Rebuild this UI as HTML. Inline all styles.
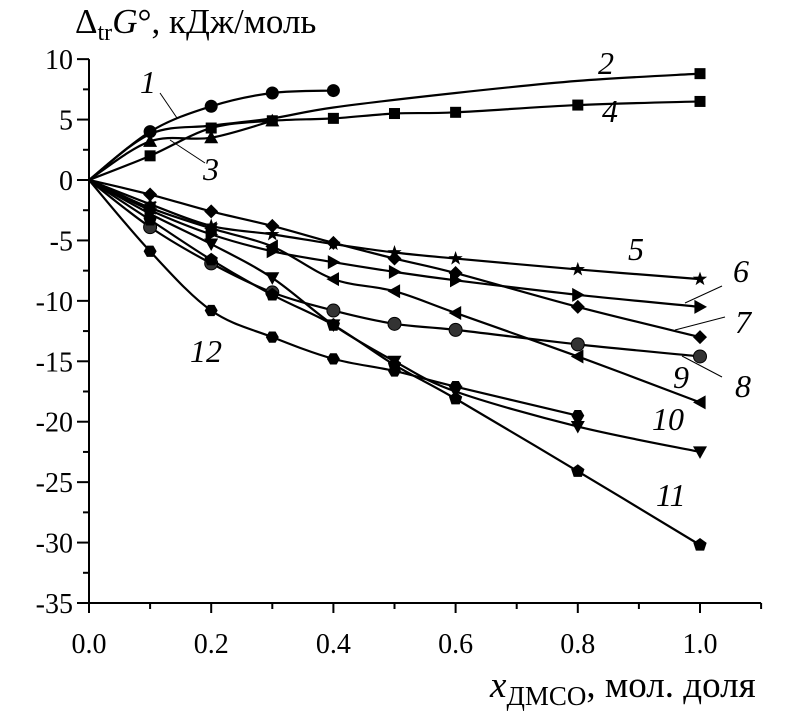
<!DOCTYPE html>
<html><head><meta charset="utf-8"><style>
html,body{margin:0;padding:0;background:#fff;}
svg{display:block;font-family:"Liberation Serif",serif;}
</style></head><body>
<svg id="chart" width="812" height="722" viewBox="0 0 812 722" xmlns="http://www.w3.org/2000/svg">
<g id="axes"></g>
<g id="series"></g>
<g id="labels"></g>
<text x="75" y="33" font-size="35">Δ<tspan font-size="24" dy="7">tr</tspan><tspan dy="-7" font-style="italic">G</tspan>°, кДж/моль</text>
<text x="490" y="697" font-size="37"><tspan font-style="italic">x</tspan><tspan font-size="27" dy="8">ДМСО</tspan><tspan dy="-8">, мол. доля</tspan></text>
</svg>
<script>
const xTicks=[0,0.2,0.4,0.6,0.8,1.0];
const xTickLabels=["0.0","0.2","0.4","0.6","0.8","1.0"];
const yTicks=[10,5,0,-5,-10,-15,-20,-25,-30,-35];
const yTickLabels=["10","5","0","-5","-10","-15","-20","-25","-30","-35"];
const xFull=[0,0.1,0.2,0.3,0.4,0.5,0.6,0.8,1.0];
const x1=[0,0.1,0.2,0.3,0.4];
const y1=[0,4.0,6.1,7.2,7.4];
const x2=[0,0.1,0.2,0.3,0.4,0.6,0.8,1.0];
const y2=[0,3.8,4.5,5.1,6.0,7.2,8.2,8.8];
const x3=[0,0.1,0.2,0.3];
const y3=[0,3.2,3.5,4.9];
const y4=[0,2.0,4.3,4.9,5.1,5.5,5.6,6.2,6.5];
const y5=[0,-2.0,-3.8,-4.5,-5.3,-6.0,-6.5,-7.4,-8.2];
const y6=[0,-2.5,-4.5,-5.9,-6.8,-7.6,-8.3,-9.5,-10.5];
const y7=[0,-1.2,-2.6,-3.8,-5.2,-6.5,-7.7,-10.5,-13.0];
const y8=[0,-2.3,-4.0,-5.5,-8.2,-9.2,-11.0,-14.6,-18.4];
const y9=[0,-3.9,-6.9,-9.3,-10.8,-11.9,-12.4,-13.6,-14.6];
const y10=[0,-2.8,-5.3,-8.1,-12.0,-15.0,-17.5,-20.4,-22.5];
const y11=[0,-3.3,-6.6,-9.5,-12.0,-15.3,-18.1,-24.1,-30.2];
const x12=[0,0.1,0.2,0.3,0.4,0.5,0.6,0.8];
const y12=[0,-5.9,-10.8,-13.0,-14.8,-15.8,-17.1,-19.5];

const NS="http://www.w3.org/2000/svg";
const X=v=>89+v*611;
const Y=v=>180-v*12.086;
function mk(tag,attrs,parent){const e=document.createElementNS(NS,tag);for(const k in attrs)e.setAttribute(k,attrs[k]);parent.appendChild(e);return e;}
const axes=document.getElementById('axes');
const ser=document.getElementById('series');
let e;
e=mk('line',{x1:X(0),y1:Y(10),x2:X(0),y2:Y(-35),stroke:'#000','stroke-width':2},axes);


e=mk('line',{x1:X(0),y1:Y(-35),x2:X(1.1),y2:Y(-35),stroke:'#000','stroke-width':2},axes);


yTicks.forEach((t,i)=>{
  e=mk('line',{x1:X(0)-12,y1:Y(t),x2:X(0),y2:Y(t),stroke:'#000','stroke-width':2},axes);
  
  
  if(t>-35){e=mk('line',{x1:X(0)-6,y1:Y(t-2.5),x2:X(0),y2:Y(t-2.5),stroke:'#000','stroke-width':2},axes);
  
  }
  e=mk('text',{x:X(0)-16,y:Y(t)+10,'text-anchor':'end','font-size':28},axes);
  e.textContent=yTickLabels[i];
  
  
});
xTicks.forEach((t,i)=>{
  e=mk('line',{x1:X(t),y1:Y(-35),x2:X(t),y2:Y(-35)+10,stroke:'#000','stroke-width':2},axes);
  
  
  e=mk('line',{x1:X(t+0.1),y1:Y(-35),x2:X(t+0.1),y2:Y(-35)+6,stroke:'#000','stroke-width':2},axes);
  
  
  e=mk('text',{x:X(t),y:653,'text-anchor':'middle','font-size':28},axes);
  e.textContent=xTickLabels[i];
  
  
});
function smooth(pts){let d='M'+pts[0][0]+','+pts[0][1];for(let i=0;i<pts.length-1;i++){const p0=pts[i-1]||pts[i],p1=pts[i],p2=pts[i+1],p3=pts[i+2]||p2;const t=6;d+=' C'+(p1[0]+(p2[0]-p0[0])/t)+','+(p1[1]+(p2[1]-p0[1])/t)+' '+(p2[0]-(p3[0]-p1[0])/t)+','+(p2[1]-(p3[1]-p1[1])/t)+' '+p2[0]+','+p2[1];}return d;}
function marker(type,cx,cy,g){
  const s=7;let el;
  if(type==='circle')el=mk('circle',{cx,cy,r:6.5,fill:'#000'},g);
  else if(type==='sphere')el=mk('circle',{cx,cy,r:6.5,fill:'#333',stroke:'#000','stroke-width':1},g);
  else if(type==='square')el=mk('rect',{x:cx-5.5,y:cy-5.5,width:11,height:11,fill:'#000'},g);
  else{let p;
    if(type==='tri-up')p=[[0,-s],[s,s*0.8],[-s,s*0.8]];
    else if(type==='tri-down')p=[[0,s],[s,-s*0.8],[-s,-s*0.8]];
    else if(type==='tri-right')p=[[s,0],[-s*0.8,s],[-s*0.8,-s]];
    else if(type==='tri-left')p=[[-s,0],[s*0.8,s],[s*0.8,-s]];
    else if(type==='diamond')p=[[0,-s],[s,0],[0,s],[-s,0]];
    else if(type==='star'){p=[];for(let k=0;k<10;k++){const r=k%2?3:7.5,a=-Math.PI/2+k*Math.PI/5;p.push([r*Math.cos(a),r*Math.sin(a)]);}}
    else if(type==='pentagon'){p=[];for(let k=0;k<5;k++){const a=-Math.PI/2+k*2*Math.PI/5;p.push([7*Math.cos(a),7*Math.sin(a)]);}}
    else {p=[];for(let k=0;k<6;k++){const a=k*Math.PI/3;p.push([6.5*Math.cos(a),6.5*Math.sin(a)]);}}
    el=mk('polygon',{points:p.map(q=>(cx+q[0])+','+(cy+q[1])).join(' '),fill:'#000'},g);}
  
  
}
const defs=[
 ['1',x1,y1,'circle',false],['2',x2,y2,'square',true],['3',x3,y3,'tri-up',false],['4',xFull,y4,'square',false],
 ['5',xFull,y5,'star',false],['6',xFull,y6,'tri-right',false],['7',xFull,y7,'diamond',false],['8',xFull,y8,'tri-left',false],
 ['9',xFull,y9,'sphere',false],['10',xFull,y10,'tri-down',false],['11',xFull,y11,'pentagon',false],['12',x12,y12,'hexagon',false]];
defs.forEach(d=>{
  const g=mk('g',{},ser);
  
  
  const pts=d[1].map((x,i)=>[X(x),Y(d[2][i])]);
  const p=mk('path',{d:smooth(pts),fill:'none',stroke:'#000','stroke-width':2.2},g);
  
  
  pts.forEach((q,i)=>{if(i===0)return;if(d[4]&&i<pts.length-1)return;marker(d[3],q[0],q[1],g);});
});
const labs=document.getElementById('labels');
const labelText=[['1',140,93],['2',598,74],['3',203,180],['4',602,122],['5',628,260],['6',733,282],['7',735,333],['8',735,397],['9',673,388],['10',652,430],['11',656,506],['12',190,362]];
labelText.forEach(l=>{e=mk('text',{x:l[1],y:l[2],'font-size':32,'font-style':'italic'},labs);e.textContent=l[0];
  
  });
const leaders=[[160,93,177,118],[170,140,205,163],[685,303,722,286],[675,330,725,317],[682,356,722,377]];
leaders.forEach(q=>{e=mk('line',{x1:q[0],y1:q[1],x2:q[2],y2:q[3],stroke:'#000','stroke-width':1},labs);
  
  });
</script>
</body></html>
